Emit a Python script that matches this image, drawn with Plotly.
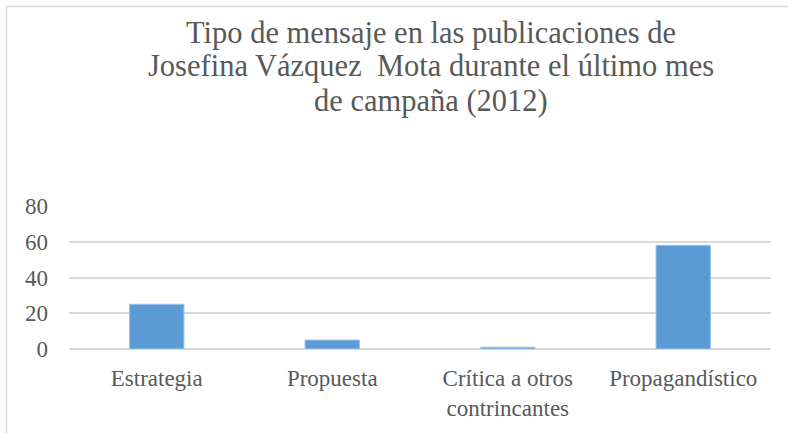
import plotly.graph_objects as go

categories = ["Estrategia", "Propuesta", "Crítica a otros<br>contrincantes", "Propagandístico"]
values = [25, 5, 1, 58]
y_ticks = [0, 20, 40, 60, 80]
title_lines = [
    "Tipo de mensaje en las publicaciones de",
    "Josefina Vázquez  Mota durante el último mes",
    "de campaña (2012)",
]

W, H = 788, 433
ML, MR, MT, MB = 69, 17, 206, 84
pw = W - ML - MR
ph = H - MT - MB

def px_to_paper_x(px):
    return (px - ML) / pw

def px_to_paper_y(py):
    return (H - MB - py) / ph

fig = go.Figure(go.Bar(
    x=categories, y=values,
    marker=dict(color="#5B9BD5", line=dict(color="#9DC3E6", width=1)),
    width=0.31,
))

font_family = "Liberation Serif"
title_centers_px = [32.5, 66.5, 100.5]
annotations = [
    dict(text=t, xref="paper", yref="paper", x=px_to_paper_x(431), y=px_to_paper_y(cy),
         xanchor="center", yanchor="middle", showarrow=False,
         font=dict(family=font_family, size=30.5, color="#595959"))
    for t, cy in zip(title_lines, title_centers_px)
]

fig.update_layout(
    width=W, height=H,
    margin=dict(l=ML, r=MR, t=MT, b=MB, autoexpand=False),
    paper_bgcolor="white", plot_bgcolor="white",
    showlegend=False,
    font=dict(family=font_family, color="#595959", size=23),
    annotations=annotations,
    xaxis=dict(showgrid=False, showline=False, ticks="", automargin=False,
               tickfont=dict(family=font_family, size=23), ticklabelstandoff=13),
    yaxis=dict(range=[0, 80], tickvals=y_ticks, showgrid=True, gridcolor="#D9D9D9",
               gridwidth=1.5, zeroline=True, zerolinecolor="#D9D9D9", zerolinewidth=1.5,
               showline=False, ticks="", automargin=False,
               tickfont=dict(family=font_family, size=23), ticklabelstandoff=20),
    shapes=[
        dict(type="line", xref="paper", yref="paper",
             x0=px_to_paper_x(6.5), x1=px_to_paper_x(800), y0=px_to_paper_y(6.5), y1=px_to_paper_y(6.5),
             line=dict(color="#D9D9D9", width=1.5), layer="below"),
        dict(type="line", xref="paper", yref="paper",
             x0=px_to_paper_x(6.5), x1=px_to_paper_x(6.5), y0=px_to_paper_y(6.5), y1=px_to_paper_y(445),
             line=dict(color="#D9D9D9", width=1.5), layer="below"),
    ],
)

fig.write_html("out.html", config={"displayModeBar": False},
               post_script="document.body.style.margin='0';")
